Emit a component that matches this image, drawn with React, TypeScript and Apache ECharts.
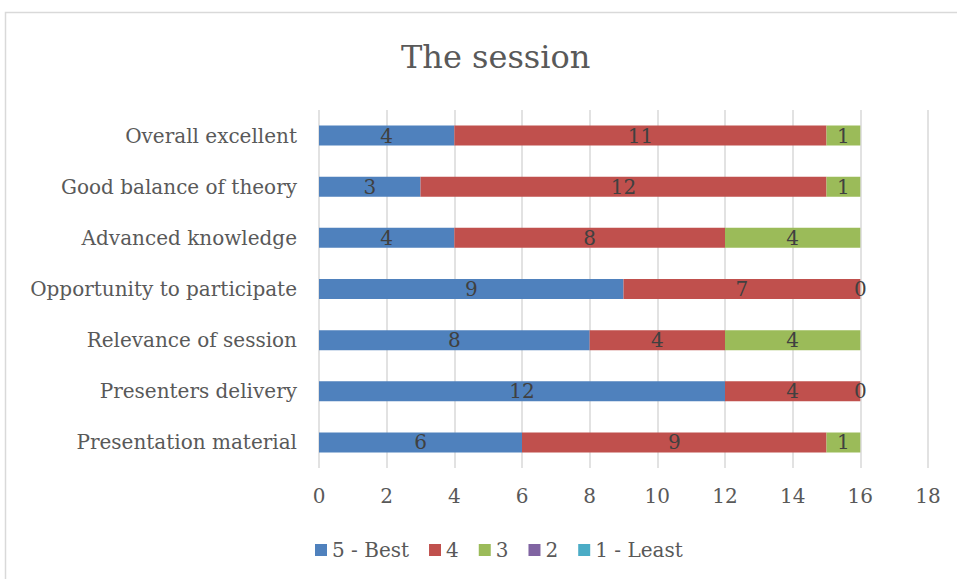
import React, { useEffect, useRef } from "react";
import * as echarts from "echarts";

const categories = [
  "Presentation material",
  "Presenters delivery",
  "Relevance of session",
  "Opportunity to participate",
  "Advanced knowledge",
  "Good balance of theory",
  "Overall excellent",
];
const seriesNames = ["5 - Best", "4", "3", "2", "1 - Least"];
const best5 = [6, 12, 8, 9, 4, 3, 4];
const score4 = [9, 4, 4, 7, 8, 12, 11];
const score3 = [1, 0, 4, 0, 4, 1, 1];
const score2 = [0, 0, 0, 0, 0, 0, 0];
const least1 = [0, 0, 0, 0, 0, 0, 0];
const colors = ["#4F81BD", "#C0504D", "#9BBB59", "#8064A2", "#4BACC6"];

const FONT = "DejaVu Serif";

export default function App() {
  const ref = useRef<HTMLDivElement>(null);
  useEffect(() => {
    const chart = echarts.init(ref.current!, null, { renderer: "svg" });
    const values = [best5, score4, score3, score2, least1];
    const showLabel = [true, true, true, false, false];
    chart.setOption({
      animation: false,
      textStyle: { fontFamily: FONT },
      title: {
        text: "The session",
        left: 396,
        top: 36,
        textStyle: { fontFamily: FONT, fontSize: 32, fontWeight: "normal", color: "#595959" },
      },
      graphic: [
        {
          type: "rect",
          shape: { x: 5.5, y: 12.5, width: 1000, height: 1000 },
          style: { fill: "none", stroke: "#d9d9d9", lineWidth: 1.5 },
          silent: true,
        },
      ],
      legend: {
        bottom: 14,
        left: 310,
        itemWidth: 12,
        itemHeight: 12,
        itemGap: 20,
        icon: "rect",
        textStyle: { fontFamily: FONT, fontSize: 20, color: "#595959" },
        data: seriesNames,
      },
      grid: { left: 319, right: 29, top: 110, bottom: 111, containLabel: false },
      xAxis: {
        type: "value",
        min: 0,
        max: 18,
        interval: 2,
        axisLine: { show: false },
        axisTick: { show: false },
        splitLine: { lineStyle: { color: "#d9d9d9", width: 1.5 } },
        axisLabel: { fontFamily: FONT, fontSize: 20, color: "#595959", margin: 18 },
      },
      yAxis: {
        type: "category",
        data: categories,
        axisLine: { show: false },
        axisTick: { show: false },
        axisLabel: { fontFamily: FONT, fontSize: 20, color: "#595959", margin: 22 },
      },
      series: seriesNames.map((name, i) => ({
        name,
        type: "bar",
        stack: "total",
        barWidth: 20,
        data: values[i],
        itemStyle: { color: colors[i] },
        label: {
          show: showLabel[i],
          position: "inside",
          fontFamily: FONT,
          fontSize: 20,
          color: "#404040",
        },
      })),
    });
    return () => chart.dispose();
  }, []);
  return (
    <div
      ref={ref}
      style={{ position: "fixed", left: 0, top: 0, width: 957, height: 579, background: "#fff" }}
    />
  );
}
